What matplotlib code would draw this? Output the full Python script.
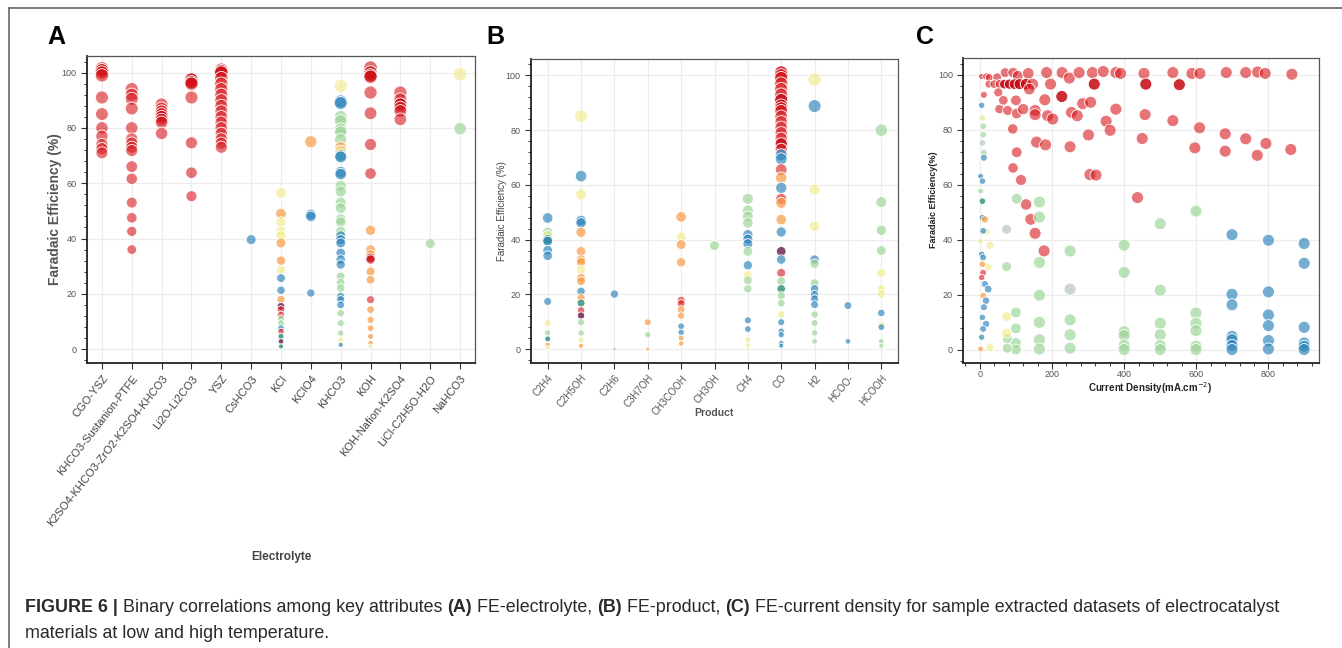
import numpy as np
import matplotlib
matplotlib.use("Agg")
import matplotlib.pyplot as plt
from matplotlib.colors import to_rgba
from matplotlib.lines import Line2D
from matplotlib.ticker import MultipleLocator

plt.rcParams['font.family'] = ['Liberation Sans', 'DejaVu Sans']

# ---------------- DATA ----------------
A_CATEGORIES = ["CGO-YSZ", "KHCO3-Sustanion-PTFE", "K2SO4-KHCO3-ZrO2-K2SO4-KHCO3",
                "Li2O-Li2CO3", "YSZ", "CsHCO3", "KCl", "KClO4", "KHCO3", "KOH",
                "KOH-Nafion-K2SO4", "LiCl-C2H5O-H2O", "NaHCO3"]
A_FE = {
    0: [101.5, 100.8, 100, 99, 91, 85, 80, 77, 74, 72.5, 71],
    1: [94, 92, 90.5, 87, 80, 76, 74.5, 73, 71.8, 66, 61.6, 53, 47.5, 42.6, 36],
    2: [88.5, 87, 86, 85, 84, 83, 82, 78],
    3: [97.5, 96.5, 96, 91, 74.6, 63.8, 55.3],
    4: [101, 100.5, 100, 98, 96, 94, 92, 90, 88, 86, 84, 82, 80, 78, 76, 74.5, 73],
    5: [39.6],
    6: [56.5, 49, 46, 42.6, 41, 38.4, 32, 28.7, 25.7, 21.3, 18, 15.5, 14.3, 12.4, 11,
        9.4, 7.6, 6.4, 4.6, 2.8, 1],
    7: [75, 48.7, 48, 20.3],
    8: [95.2, 89.6, 89, 84, 82.5, 79.5, 78.5, 75.8, 72.8, 71.6, 70, 69.5, 64, 63.3, 59,
        57, 53, 51, 47, 46, 42.6, 41, 39.6, 38.4, 34.8, 32.4, 30.6, 26.3, 24, 22.1, 19.1,
        17.9, 16, 13, 9.4, 5.8, 3.4, 1.6],
    9: [101.8, 100, 99, 98.5, 92.8, 85.3, 74, 63.5, 43, 36, 34.2, 33, 32.4, 28.1, 25.1,
        17.9, 14.3, 10.6, 7.6, 4.6, 2.2, 1],
    10: [92.8, 90.3, 88.5, 87.3, 86.1, 83.1],
    11: [38.2],
    12: [99.4, 79.7],
}
A_GROUP = {
    0: "rdrrrrrrrrr",
    1: "rrrrrrrrrrrrrrr",
    2: "rrrrdrrr",
    3: "ddrrrrr",
    4: "ddrrrrrrrrrrrrrrr",
    5: "b",
    6: "yoyyyooybbomrrggbrtmt",
    7: "obbb",
    8: "ybbgggggoy" + "bbbbgggggg" + "gbbbbbbggg" + "bbbgggyb",
    9: "rddrrrrrooodrooroooooy",
    10: "rrdrrr",
    11: "g",
    12: "yg",
}

B_CATEGORIES = ["C2H4", "C2H5OH", "C2H6", "C3H7OH", "CH3COOH", "CH3OH", "CH4", "CO",
                "H2", "HCOO-", "HCOOH"]
B_FE = {
    0: [47.9, 42.7, 41.5, 40, 39.4, 36.1, 34.1, 17.4, 9.5, 5.9, 3.7, 1.6, 0.4],
    1: [85.1, 63.2, 56.5, 47, 46.1, 42.7, 35.7, 32.7, 31.8, 29, 26, 24.8, 21.1, 18.7,
        16.8, 14.1, 12.2, 9.8, 5.9, 3.4, 1.2],
    2: [20.1, 0],
    3: [9.8, 5.2, 0],
    4: [48.3, 41, 38.2, 31.7, 17.8, 16.6, 14.4, 12.2, 8.3, 6.1, 4, 2],
    5: [37.8],
    6: [54.9, 50.7, 48.5, 46.1, 41.8, 40.2, 38.5, 35.7, 30.6, 27, 25.1, 22, 10.5, 7.3,
        3.4, 1.5, 0],
    7: [101, 100, 99, 97, 95, 93, 91, 89, 88, 87, 85, 83, 81, 79, 77, 75, 73, 71, 69.5,
        65.6, 62.6, 58.9, 54.9, 53.4, 47.3, 42.8, 35.7, 32.7, 27.8, 24.8, 22, 19.5, 16.8,
        12.6, 9.8, 6.5, 5.2, 2.2, 1.2],
    8: [98.5, 88.8, 58.3, 44.9, 32.7, 31.2, 24.1, 22, 19.9, 18.3, 16.2, 12.6, 9.5, 5.9, 2.8],
    9: [15.9, 2.8],
    10: [80, 53.7, 43.4, 36, 27.8, 22, 20.1, 13.2, 8.9, 8, 2.8, 1.2],
}
B_GROUP = {
    0: "bgytbbbbygtoy",
    1: "ybybbooooyoobotrmggyo",
    2: "be",
    3: "ogo",
    4: "oyoorroobboo",
    5: "g",
    6: "ggggbbbgbyggbbyyy",
    7: "drrrrrddrr" + "rrrrrdrbbr" + "obroobmbrg" + "tggybbbbb",
    8: "ybyybggbbbbgggg",
    9: "bb",
    10: "ggggyyybybgg",
}

C_CURRENT = [
    # red
    5, 18, 26, 48, 70, 92, 105, 134, 185, 228, 248, 275, 312, 342, 377, 390, 455, 535,
    588, 610, 683, 737, 770, 791, 865,
    25, 40, 55, 68, 82, 96, 110, 128, 146, 196, 317, 460, 553,
    11, 51, 65, 100, 137, 180, 227, 285, 307, 54, 77, 102, 120, 153, 153, 188, 202, 254,
    270, 350, 377, 361, 458, 535, 609, 680, 737, 793, 91, 157, 182, 250, 301, 450, 596,
    680, 769, 862, 102, 92, 114, 305, 322, 128, 141, 153, 178, 437,
    # green
    102, 165, 165, 74, 74, 165, 165, 100, 100, 100, 100, 76, 76, 165, 165, 165, 250, 250,
    250, 250, 250, 400, 400, 400, 400, 400, 400, 500, 500, 500, 500, 500, 500, 599, 599,
    599, 599, 599, 599,
    # blue
    699, 699, 699, 699, 699, 699, 699, 800, 800, 800, 800, 800, 800, 899, 899, 899, 899,
    899, 899,
    # yellow
    28, 74, 74, 18, 28, 23, 14,
    # near-zero cluster
    5, 7, 9, 9, 7, 11, 11, 2, 7, 2, 7, 7, 14, 9, 2, 5, 9, 7, 9, 5, 14, 23, 9, 17, 11, 7,
    17, 9, 5, 2,
]
C_FE = [
    99.4, 99.4, 99, 99.1, 100.8, 100.8, 99.6, 100.5, 100.8, 100.8, 98.8, 100.8, 100.8,
    101.2, 100.8, 100.5, 100.5, 100.8, 100.5, 100.5, 100.8, 100.8, 101, 100.5, 100.2,
    96.6, 96.6, 96.6, 96.6, 96.6, 96.6, 96.6, 96.6, 96.6, 96.6, 96.6, 96.6, 96.4,
    92.7, 93.6, 90.7, 90.7, 94.8, 90.9, 92.1, 89.5, 90, 87.5, 87, 85.9, 87.5, 87, 85.5,
    85.1, 83.9, 86.3, 85.1, 83.1, 87.5, 79.8, 85.5, 83.3, 80.7, 78.5, 76.7, 75, 80.3,
    75.5, 74.5, 73.8, 78.1, 76.8, 73.4, 72.2, 70.7, 72.8, 71.8, 66.1, 61.7, 63.7, 63.5,
    52.8, 47.4, 42.3, 35.9, 55.3,
    54.9, 53.7, 48.2, 43.8, 30.2, 31.7, 19.8, 13.5, 7.7, 2.4, 0, 3.9, 0.5, 3.6, 0.2, 9.9,
    35.9, 22, 10.8, 5.4, 0.5, 38, 28.1, 6.5, 5.1, 1.5, 0, 45.8, 21.6, 9.6, 5.4, 1.5, 0,
    50.4, 13.3, 9.6, 6.9, 1.2, 0,
    41.8, 20.1, 16.3, 4.8, 3.6, 1.5, 0, 39.8, 21, 12.6, 8.7, 3.3, 0.2, 38.6, 31.4, 8.1,
    2.4, 1.2, 0,
    0.8, 12, 6, 43, 38, 30, 47,
    88.9, 84.3, 81.3, 78.2, 75.2, 71.6, 69.8, 63.1, 61.3, 57.7, 54, 48, 47.4, 43.2, 39.5,
    34.7, 33.5, 31, 28, 26.2, 23.8, 22, 19.6, 17.8, 15.4, 11.7, 9.3, 7.5, 4.5, 0.2,
]
C_GROUP = ("r" * 25 + "rrrdddddrr" + "ddd" + "r" * 6 + "d" + "r" * 41
           + "g" * 3 + "e" + "g" * 12 + "geggg" + "g" * 18
           + "b" * 19
           + "yyyyyyy"
           + "blggegbbbgtbobybborrbbobbbbbbo")

C_XTICKS = [0, 200, 400, 600, 800]
FE_TICKS = [0, 20, 40, 60, 80, 100]

assert len(C_CURRENT) == len(C_FE) == len(C_GROUP)
for k in A_FE:
    assert len(A_FE[k]) == len(A_GROUP[k]), ("A", k)
for k in B_FE:
    assert len(B_FE[k]) == len(B_GROUP[k]), ("B", k)

# ---------------- STYLE ----------------
PAL = {'r': '#d7191c', 'd': '#c40812', 'o': '#f99b45', 'y': '#f0ea84', 'l': '#d6ec8a',
       'g': '#9fd69a', 'b': '#2b83ba', 't': '#2a8c7a', 'm': '#6a1b4d', 'e': '#b9c6b9'}
ALPHA = {'r': 0.6, 'd': 0.85, 'o': 0.7, 'y': 0.6, 'l': 0.65, 'g': 0.7, 'b': 0.66,
         't': 0.8, 'm': 0.8, 'e': 0.7}

W, H = 1342, 648
fig = plt.figure(figsize=(W / 100, H / 100), dpi=100)


def box(l, t, r, b):
    return [l / W, 1 - b / H, (r - l) / W, (b - t) / H]


def style_axes(ax):
    ax.set_facecolor('white')
    for side in ['left', 'bottom']:
        ax.spines[side].set_color('#222')
        ax.spines[side].set_linewidth(1.3)
    for side in ['top', 'right']:
        ax.spines[side].set_color('#555')
        ax.spines[side].set_linewidth(0.9)
    ax.grid(True, which='major', color='#ececec', lw=0.8)
    ax.set_axisbelow(True)
    ax.tick_params(which='major', direction='out', length=4, width=0.8, color='#333',
                   labelsize=6.5, labelcolor='#555', top=False, right=False)
    ax.tick_params(which='minor', direction='out', length=2.5, width=0.7, color='#333',
                   top=False, right=False)
    ax.set_ylim(-5, 106)
    ax.set_yticks(FE_TICKS)
    ax.yaxis.set_minor_locator(MultipleLocator(4))


def colors(groups):
    return [to_rgba(PAL[g], ALPHA[g]) for g in groups]


def cat_scatter(ax, fe_dict, grp_dict):
    xs, ys, gs = [], [], []
    for k in fe_dict:
        for v, g in zip(fe_dict[k], grp_dict[k]):
            xs.append(k); ys.append(v); gs.append(g)
    ys = np.array(ys)
    d = 4 + 9.5 * np.sqrt(np.clip(ys, 0, None) / 100)
    ax.scatter(xs, ys, s=(d * 0.72) ** 2, c=colors(gs), edgecolors='white',
               linewidths=0.6, zorder=3)


# Panel A
axA = fig.add_axes(box(87, 56, 475, 363))
style_axes(axA)
cat_scatter(axA, A_FE, A_GROUP)
axA.set_xlim(-0.5, 12.5)
axA.set_xticks(range(len(A_CATEGORIES)))
axA.set_xticklabels(A_CATEGORIES, rotation=52, ha='right', va='top',
                    rotation_mode='anchor', fontsize=8, color='#444')

# Panel B
axB = fig.add_axes(box(531, 59, 898, 362.7))
style_axes(axB)
cat_scatter(axB, B_FE, B_GROUP)
axB.set_xlim(-0.5, 10.5)
axB.set_xticks(range(len(B_CATEGORIES)))
axB.set_xticklabels(B_CATEGORIES, rotation=50, ha='right', va='top',
                    rotation_mode='anchor', fontsize=7, color='#555')

# Panel C
axC = fig.add_axes(box(963.3, 58.3, 1319.3, 363.3))
style_axes(axC)
cx = np.array(C_CURRENT, dtype=float)
dC = 5 + 7 * np.sqrt(np.clip(cx, 0, 150) / 150)
axC.scatter(cx, C_FE, s=(dC * 0.72) ** 2, c=colors(C_GROUP), edgecolors='white',
            linewidths=0.6, zorder=3)
axC.set_xlim(-46, 941)
axC.set_xticks(C_XTICKS)
axC.xaxis.set_minor_locator(MultipleLocator(40))
axC.tick_params(axis='x', which='major', pad=1.0)

# Labels
def ftext(x, y, s, **kw):
    return fig.text(x / W, 1 - y / H, s, **kw)

ftext(56, 37, "A", fontsize=18, fontweight='bold', ha='center', va='center')
ftext(495, 37, "B", fontsize=18, fontweight='bold', ha='center', va='center')
ftext(925, 37, "C", fontsize=18, fontweight='bold', ha='center', va='center')

ftext(55, 209, "Faradaic Efficiency (%)", rotation=90, fontsize=10, fontweight='bold',
      color='#555', ha='center', va='center')
ftext(502, 211, "Faradaic Efficiency (%)", rotation=90, fontsize=7, color='#444',
      ha='center', va='center')
ftext(933, 200, "Faradaic Efficiency(%)", rotation=90, fontsize=6.5, fontweight='bold',
      color='#222', ha='center', va='center')

ftext(281, 557, "Electrolyte", fontsize=8.5, fontweight='bold', color='#444',
      ha='center', va='center')
ftext(714, 413, "Product", fontsize=7.5, fontweight='bold', color='#555',
      ha='center', va='center')
ftext(1150, 388, "Current Density(mA.cm$^{-2}$)", fontsize=7, fontweight='bold',
      color='#222', ha='center', va='center')

# outer frame (top and left lines)
fig.add_artist(Line2D([9 / W, 1.0], [1 - 8 / H, 1 - 8 / H], color='#666', lw=1.2))
fig.add_artist(Line2D([9 / W, 9 / W], [1 - 8 / H, 0.0], color='#666', lw=1.2))

# caption with mixed bold pieces
renderer = fig.canvas.get_renderer()
CAP_SIZE = 12.9
pieces = [("FIGURE 6 | ", 'bold'), ("Binary correlations among key attributes ", 'normal'),
          ("(A)", 'bold'), (" FE-electrolyte, ", 'normal'), ("(B)", 'bold'),
          (" FE-product, ", 'normal'), ("(C)", 'bold'),
          (" FE-current density for sample extracted datasets of electrocatalyst", 'normal')]
x = 25
for s, w in pieces:
    t = ftext(x, 608, s, fontsize=CAP_SIZE, fontweight=w, color='#2a2a2a',
              ha='left', va='center')
    bb = t.get_window_extent(renderer=renderer)
    x += bb.width
ftext(25, 633, "materials at low and high temperature.", fontsize=CAP_SIZE,
      color='#2a2a2a', ha='left', va='center')

fig.savefig("out.png", dpi=100)
